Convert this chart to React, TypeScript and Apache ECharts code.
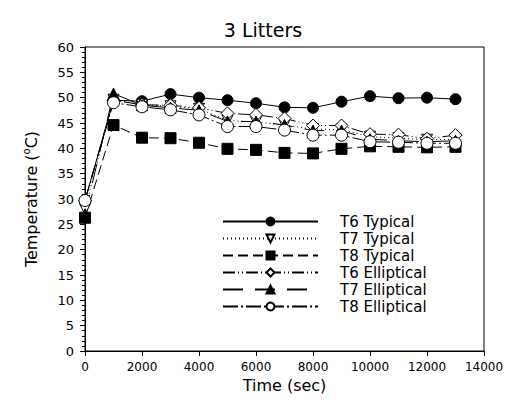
import React, { useEffect, useRef } from "react";
import * as echarts from "echarts";

const times = [0, 1000, 2000, 3000, 4000, 5000, 6000, 7000, 8000, 9000, 10000, 11000, 12000, 13000];
const t6Typical = [29.7, 49.5, 49.3, 50.7, 50.0, 49.5, 48.9, 48.1, 48.0, 49.2, 50.3, 49.9, 50.0, 49.7];
const t7Typical = [28.0, 49.6, 48.6, 48.3, 47.8, 45.5, 45.2, 44.6, 43.8, 43.7, 42.3, 42.0, 41.7, 41.8];
const t8Typical = [26.3, 44.6, 42.1, 42.0, 41.1, 39.9, 39.7, 39.1, 39.0, 39.9, 40.4, 40.3, 40.2, 40.3];
const t6Elliptical = [29.7, 49.5, 48.6, 48.5, 48.0, 46.9, 46.6, 45.9, 44.5, 44.5, 42.8, 42.7, 41.9, 42.6];
const t7Elliptical = [27.0, 50.8, 48.5, 48.0, 47.5, 45.3, 45.3, 44.6, 43.5, 43.5, 41.8, 41.5, 41.3, 41.5];
const t8Elliptical = [29.7, 49.0, 48.2, 47.6, 46.6, 44.3, 44.3, 43.6, 42.6, 42.6, 41.3, 41.2, 41.0, 41.0];

const xTicks = [0, 2000, 4000, 6000, 8000, 10000, 12000, 14000];
const yTicks = [0, 5, 10, 15, 20, 25, 30, 35, 40, 45, 50, 55, 60];

const FONT = "DejaVu Sans, Liberation Sans, sans-serif";

function mk(name: string, vals: number[], symbol: string, filled: boolean, dash: any, size = 11, rotate = 0) {
  return {
    name,
    type: "line",
    data: times.map((t, i) => [t, vals[i]]),
    symbol,
    symbolSize: size,
    symbolRotate: rotate,
    showAllSymbol: true,
    lineStyle: { color: "#000", width: 1, type: dash },
    itemStyle: { color: filled ? "#000" : "#fff", borderColor: "#000", borderWidth: 1 },
    emphasis: { disabled: true },
    z: 2,
  };
}

export default function App() {
  const ref = useRef<HTMLDivElement>(null);
  useEffect(() => {
    const chart = echarts.init(ref.current!, undefined, { renderer: "svg" });
    chart.setOption({
      animation: false,
      backgroundColor: "#fff",
      title: {
        text: "3 Litters",
        left: 258,
        textAlign: "center",
        top: 15,
        textStyle: { fontFamily: FONT, fontSize: 19, fontWeight: "normal", color: "#000" },
      },
      grid: { left: 85, right: 24, top: 47, bottom: 58, show: true, borderColor: "#000", borderWidth: 1 },
      legend: {
        orient: "vertical",
        left: 222,
        top: 213,
        padding: 0,
        itemWidth: 95,
        itemHeight: 10,
        itemGap: 0,
        textStyle: { fontFamily: FONT, fontSize: 15, lineHeight: 17, color: "#000", padding: [0, 0, 0, 17] },
        data: ["T6 Typical", "T7 Typical", "T8 Typical", "T6 Elliptical", "T7 Elliptical", "T8 Elliptical"],
      },
      xAxis: {
        type: "value",
        min: xTicks[0],
        max: xTicks[xTicks.length - 1],
        interval: 2000,
        name: "Time (sec)",
        nameLocation: "middle",
        nameGap: 26,
        nameTextStyle: { fontFamily: FONT, fontSize: 16, color: "#000" },
        axisLine: { lineStyle: { color: "#000", width: 1 } },
        axisTick: { show: true, inside: false, length: 5, lineStyle: { color: "#000" } },
        axisLabel: { fontFamily: FONT, fontSize: 12, color: "#000", margin: 10, formatter: (v: number) => String(v) },
        splitLine: { show: false },
      },
      yAxis: {
        type: "value",
        min: yTicks[0],
        max: yTicks[yTicks.length - 1],
        interval: 5,
        name: "Temperature ({sup|o}C)",
        nameLocation: "middle",
        nameGap: 44,
        nameRotate: 90,
        nameTextStyle: {
          fontFamily: FONT,
          fontSize: 16,
          lineHeight: 20,
          color: "#000",
          rich: { sup: { fontFamily: FONT, fontSize: 10, color: "#000", verticalAlign: "top", lineHeight: 9 } },
        },
        axisLine: { show: true, lineStyle: { color: "#000", width: 1 } },
        axisTick: { show: true, inside: false, length: 5, lineStyle: { color: "#000" } },
        minorTick: { show: true, splitNumber: 5, length: 3, lineStyle: { color: "#000" } },
        axisLabel: { fontFamily: FONT, fontSize: 13, color: "#000", margin: 11 },
        splitLine: { show: false },
      },
      series: [
        mk("T6 Typical", t6Typical, "circle", true, "solid", 11),
        mk("T7 Typical", t7Typical, "triangle", false, [1, 3], 11, 180),
        mk("T8 Typical", t8Typical, "rect", true, [10, 5], 11),
        mk("T6 Elliptical", t6Elliptical, "diamond", false, [12, 3, 1, 3, 1, 3], 13),
        mk("T7 Elliptical", t7Elliptical, "triangle", true, [20, 12], 11),
        mk("T8 Elliptical", t8Elliptical, "circle", false, [15, 3, 2, 3], 12),
      ],
    });
    return () => chart.dispose();
  }, []);
  return <div ref={ref} style={{ position: "absolute", left: 0, top: 0, width: 508, height: 409 }} />;
}
